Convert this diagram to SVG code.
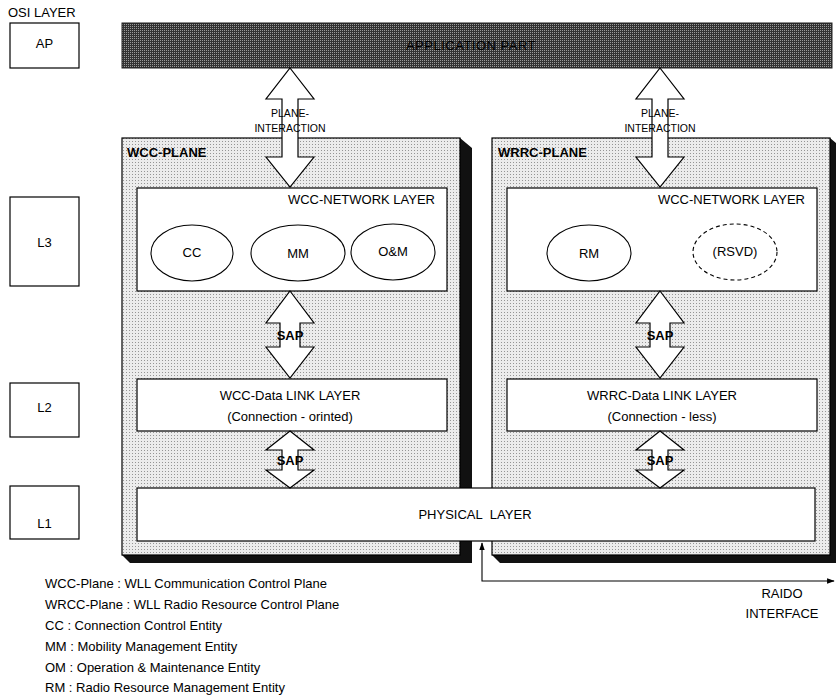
<svg xmlns="http://www.w3.org/2000/svg" width="836" height="698" viewBox="0 0 836 698">
<defs>
<pattern id="stip" width="3" height="3" patternUnits="userSpaceOnUse">
<rect width="3" height="3" fill="#ececec"/>
<rect x="0" y="0" width="1" height="1" fill="#959595"/>
</pattern>
<pattern id="dark" width="2" height="2" patternUnits="userSpaceOnUse">
<rect width="2" height="2" fill="#333"/>
<rect x="0" y="0" width="1" height="1" fill="#9a9a9a"/>
</pattern>
<marker id="ah" viewBox="0 0 10 10" refX="9" refY="5" markerWidth="7" markerHeight="7" orient="auto-start-reverse">
<path d="M0,1.5 L10,5 L0,8.5 Z" fill="#000"/>
</marker>
</defs>
<style>
text{font-family:"Liberation Sans",Arial,sans-serif;fill:#000}
.t13{font-size:13px}
.t12{font-size:12px}
.t10{font-size:10.5px}
.b{font-weight:bold}
.box{fill:#fff;stroke:#000;stroke-width:1.2}
.plane{fill:url(#stip);stroke:#000;stroke-width:1.2}
.shadow{fill:#111}
.ell{fill:#fff;stroke:#000;stroke-width:1.1}
.dash{stroke-dasharray:4 3}
.arr{fill:#fff;stroke:#000;stroke-width:1.2}
.line{fill:none;stroke:#000;stroke-width:1.1}
</style>

<text x="8" y="17" class="t13">OSI LAYER</text>

<g id="osi-ap"><rect x="10" y="23" width="69" height="45" class="box"/><text x="44.5" y="48" class="t13" text-anchor="middle">AP</text></g>
<g id="osi-l3"><rect x="10" y="197" width="69" height="89" class="box"/><text x="44.5" y="247" class="t13" text-anchor="middle">L3</text></g>
<g id="osi-l2"><rect x="10" y="383" width="69" height="54" class="box"/><text x="44.5" y="412" class="t13" text-anchor="middle">L2</text></g>
<g id="osi-l1"><rect x="10" y="486" width="69" height="53" class="box"/><text x="44.5" y="528" class="t13" text-anchor="middle">L1</text></g>

<g id="application-part">
<rect x="122" y="23" width="710" height="45" fill="url(#dark)" stroke="#222" stroke-width="1"/>
<text x="471" y="50" class="t13" text-anchor="middle" letter-spacing="0.5" fill="#111">APPLICATION PART</text>
</g>

<g id="wcc-plane">
<polygon points="460,138 472,148 472,563 130,563 122,555 460,555" class="shadow"/>
<rect x="122" y="138" width="338" height="417" class="plane"/>
<text x="127" y="157" class="t13 b">WCC-PLANE</text>
</g>

<g id="wrrc-plane">
<polygon points="830,138 842,148 842,563 500,563 492,555 830,555" class="shadow"/>
<rect x="492" y="138" width="338" height="417" class="plane"/>
<text x="498" y="157" class="t13 b">WRRC-PLANE</text>
</g>

<g id="wcc-network-layer">
<rect x="137" y="188" width="310" height="103" class="box"/>
<text x="435" y="204" class="t13" text-anchor="end">WCC-NETWORK LAYER</text>
</g>
<g id="cc"><ellipse cx="192" cy="253" rx="41" ry="28" class="ell"/><text x="192" y="257" class="t13" text-anchor="middle">CC</text></g>
<g id="mm"><ellipse cx="298" cy="253" rx="47" ry="28" class="ell"/><text x="298" y="258" class="t13" text-anchor="middle">MM</text></g>
<g id="om"><ellipse cx="393" cy="252" rx="42" ry="28" class="ell"/><text x="393" y="256" class="t13" text-anchor="middle">O&amp;M</text></g>

<g id="wrrc-network-layer">
<rect x="507" y="188" width="310" height="103" class="box"/>
<text x="805" y="204" class="t13" text-anchor="end">WCC-NETWORK LAYER</text>
</g>
<g id="rm"><ellipse cx="589" cy="253" rx="42" ry="28" class="ell"/><text x="589" y="258" class="t13" text-anchor="middle">RM</text></g>
<g id="rsvd"><ellipse cx="735" cy="252" rx="42" ry="28" class="ell dash"/><text x="735" y="256" class="t13" text-anchor="middle">(RSVD)</text></g>

<g id="wcc-data-link-layer">
<rect x="137" y="379" width="310" height="52" class="box"/>
<text x="290" y="400" class="t13" text-anchor="middle">WCC-Data LINK LAYER</text>
<text x="290" y="421" class="t13" text-anchor="middle">(Connection - orinted)</text>
</g>
<g id="wrrc-data-link-layer">
<rect x="507" y="379" width="310" height="52" class="box"/>
<text x="662" y="400" class="t13" text-anchor="middle">WRRC-Data LINK LAYER</text>
<text x="662" y="421" class="t13" text-anchor="middle">(Connection - less)</text>
</g>

<g id="physical-layer">
<rect x="137" y="488" width="678" height="53" class="box"/>
<text x="475" y="519" class="t13" text-anchor="middle" word-spacing="4">PHYSICAL LAYER</text>
</g>

<g id="connectors">
<polygon points="290,68 314,99 298,99 298,157 314,157 290,187 266,157 282,157 282,99 266,99" class="arr"/>
<polygon points="660,68 684,99 668,99 668,157 684,157 660,187 636,157 652,157 652,99 636,99" class="arr"/>
<polygon points="290,291 314,323 300,323 300,347 314,347 290,378 266,347 280,347 280,323 266,323" class="arr"/>
<polygon points="660,291 684,323 670,323 670,347 684,347 660,378 636,347 650,347 650,323 636,323" class="arr"/>
<polygon points="290,431 314,450 298,450 298,470 314,470 290,488 266,470 282,470 282,450 266,450" class="arr"/>
<polygon points="660,431 684,450 668,450 668,470 684,470 660,488 636,470 652,470 652,450 636,450" class="arr"/>
<polyline points="482,543 482,581 834,581" class="line" marker-start="url(#ah)" marker-end="url(#ah)"/>
</g>

<text x="290" y="117" class="t10" text-anchor="middle">PLANE-</text>
<text x="290" y="132" class="t10" text-anchor="middle">INTERACTION</text>
<text x="660" y="117" class="t10" text-anchor="middle">PLANE-</text>
<text x="660" y="132" class="t10" text-anchor="middle">INTERACTION</text>
<text x="290" y="340" class="t13 b" text-anchor="middle">SAP</text>
<text x="660" y="340" class="t13 b" text-anchor="middle">SAP</text>
<text x="290" y="465" class="t13 b" text-anchor="middle">SAP</text>
<text x="660" y="465" class="t13 b" text-anchor="middle">SAP</text>

<text x="782" y="598" class="t13" text-anchor="middle">RAIDO</text>
<text x="782" y="618" class="t13" text-anchor="middle">INTERFACE</text>

<g id="legend">
<text x="45" y="588" class="t13">WCC-Plane : WLL Communication Control Plane</text>
<text x="45" y="609" class="t13">WRCC-Plane : WLL Radio Resource Control Plane</text>
<text x="45" y="630" class="t13">CC : Connection Control Entity</text>
<text x="45" y="651" class="t13">MM : Mobility Management Entity</text>
<text x="45" y="672" class="t13">OM : Operation &amp; Maintenance Entity</text>
<text x="45" y="692" class="t13">RM : Radio Resource Management Entity</text>
</g>
</svg>
